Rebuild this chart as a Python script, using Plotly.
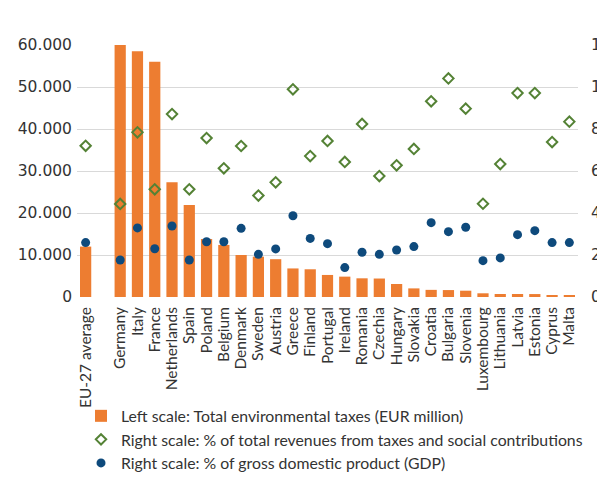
import plotly.graph_objects as go

categories = ["EU-27 average", " ", "Germany", "Italy", "France", "Netherlands", "Spain", "Poland",
              "Belgium", "Denmark", "Sweden", "Austria", "Greece", "Finland", "Portugal", "Ireland",
              "Romania", "Czechia", "Hungary", "Slovakia", "Croatia", "Bulgaria", "Slovenia",
              "Luxembourg", "Lithuania", "Latvia", "Estonia", "Cyprus", "Malta"]

total_taxes = [12000, None, 60900, 58500, 56000, 27300, 21900, 13800, 12400, 10000, 9600, 9000,
               6800, 6600, 5250, 4850, 4450, 4400, 3100, 2050, 1700, 1650, 1500, 880, 720, 720,
               700, 400, 250]

pct_revenues = [7.2, None, 4.43, 7.84, 5.13, 8.71, 5.13, 7.57, 6.13, 7.19, 4.83, 5.46, 9.89, 6.71,
                7.43, 6.43, 8.24, 5.76, 6.27, 7.05, 9.32, 10.41, 8.97, 4.44, 6.33, 9.71, 9.71,
                7.38, 8.35]

pct_gdp = [2.59, None, 1.76, 3.29, 2.30, 3.38, 1.76, 2.63, 2.63, 3.27, 2.03, 2.29, 3.87, 2.79,
           2.54, 1.40, 2.13, 2.03, 2.24, 2.40, 3.54, 3.11, 3.32, 1.73, 1.86, 2.97, 3.16, 2.59, 2.59]

left_ticks = [0, 10000, 20000, 30000, 40000, 50000, 60000]
right_ticks = [0, 2, 4, 6, 8, 10, 12]

fig = go.Figure()
fig.add_trace(go.Bar(
    x=categories, y=total_taxes, name="Left scale: Total environmental taxes (EUR million)",
    marker=dict(color="#ED7D31", line=dict(width=0)), yaxis="y"))
fig.add_trace(go.Scatter(
    x=categories, y=pct_revenues, mode="markers", yaxis="y2",
    name="Right scale: % of total revenues from taxes and social contributions",
    marker=dict(symbol="diamond-open", size=8, color="#548235", line=dict(width=2, color="#548235"))))
fig.add_trace(go.Scatter(
    x=categories, y=pct_gdp, mode="markers", yaxis="y2",
    name="Right scale: % of gross domestic product (GDP)",
    marker=dict(symbol="circle", size=9, color="#0E4A7C")))

fig.update_layout(
    width=605, height=475,
    margin=dict(l=69, r=35, t=37, b=186, autoexpand=False),
    paper_bgcolor="white", plot_bgcolor="white",
    separators=",.",
    bargap=0.35,
    font=dict(family="Lato", size=15, color="#333333"),
    xaxis=dict(type="category", categoryorder="array", categoryarray=categories,
               range=[-0.5, len(categories) - 0.5],
               tickmode="linear", dtick=1, automargin=False,
               tickangle=-90, showgrid=False, showline=False, ticks="",
               tickfont=dict(family="Lato", size=15.5, color="#333333"),
               ticklabelstandoff=6),
    yaxis=dict(range=[0, 60000], tickvals=left_ticks, tickformat=",d", automargin=False,
               showgrid=True, gridcolor="#D9D9D9", gridwidth=1, zeroline=False,
               showline=False, ticks="",
               tickfont=dict(family="DejaVu Sans", size=15.5, color="#333333"),
               ticklabelstandoff=4),
    yaxis2=dict(range=[0, 12], tickvals=right_ticks, overlaying="y", side="right", automargin=False,
                showgrid=False, zeroline=False, showline=False, ticks="",
                tickfont=dict(family="DejaVu Sans", size=15.5, color="#333333"),
                ticklabelstandoff=12),
    showlegend=True,
    legend=dict(orientation="v", x=0.008, xanchor="left", y=-0.405, yanchor="top",
                font=dict(family="Lato", size=15.8, color="#333333"),
                tracegroupgap=0, bgcolor="rgba(0,0,0,0)", itemwidth=30),
)

fig.write_html("out.html")
